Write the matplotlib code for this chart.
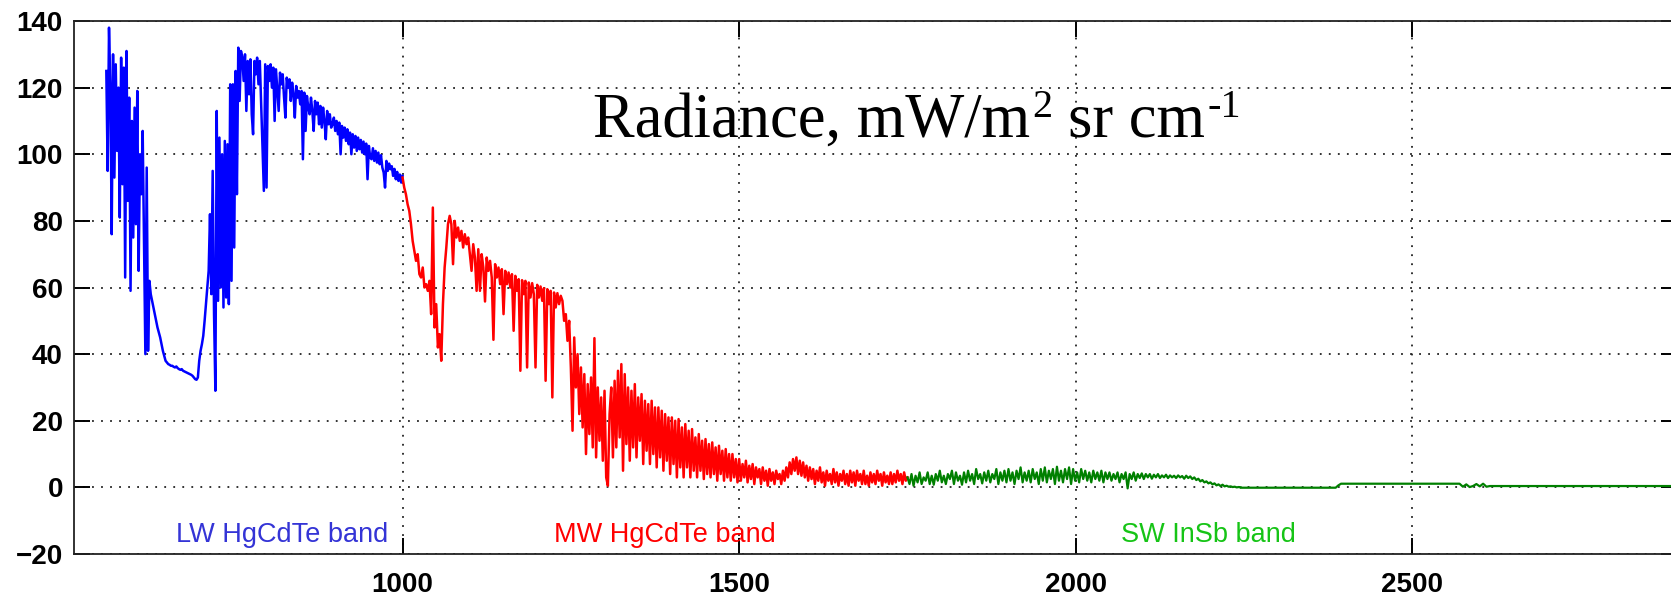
import numpy as np
import matplotlib.pyplot as plt
from matplotlib import transforms

plt.rcParams['font.family'] = ['Liberation Sans', 'DejaVu Sans']

# ---- spectrum, radiance in mW/m2 sr cm-1 ----
# LW HgCdTe band: channels every 2 cm-1 from 560
lw_start, lw_step = 560.0, 2.0
lw_rad = [
    125, 95, 138, 121, 76, 130, 93, 127, 101, 120,
    81, 129, 91, 126, 63, 131, 86, 117, 59, 110,
    75, 114, 79, 119, 65, 100, 88, 107, 74, 40,
    96, 41,
    62, 58, 56, 54, 52, 50, 48, 46.5, 45, 43,
    41, 39.5, 38, 37.5, 37, 36.8, 36.5, 36.5, 36.2, 36,
    36.3, 35.8, 35.5, 35.3, 35.5, 35, 34.8, 34.6, 34.4, 34.2,
    34, 33.8, 33.5, 33, 32.5, 32.3, 33, 38, 41, 43,
    45.5, 50, 55, 60, 65,
    82, 58, 95, 52, 29, 113, 56, 105, 60, 100,
    54, 104, 57, 103, 55, 121, 62, 121, 72, 125,
    88, 132, 116, 131,
    129, 122, 130, 113, 128, 118, 128.5, 112, 106, 128,
    124, 129, 121, 128, 115, 101, 89, 127, 90, 126.5,
    122, 127, 120, 126, 110, 125.5, 119, 113, 124.5, 121,
    124, 117, 111, 123, 120, 122.5, 116, 121.5, 118, 111,
    120.5, 117, 119, 115, 119, 98.5, 118.5, 107, 117.5, 114,
    112, 117, 113, 107, 116, 112, 115.5, 109, 114.5, 108,
    114, 110, 104.5, 113, 109, 112, 108, 109, 111, 107,
    110, 106, 109.5, 100, 108.5, 105, 108, 104, 107.5, 103,
    106.5, 100, 106, 102, 105.5, 101, 105, 101.5, 104.3, 100.5,
    103.8, 100, 103.2, 92.5, 102.5, 99, 98.5, 101.8, 98, 101,
    97.5, 100.5, 97, 99.7, 96, 94.5, 90, 98, 95, 97.2,
    95.5, 96.4, 93.5, 95.6, 92.5, 94.7, 92, 93.9, 91.5, 93.5,
]

# MW HgCdTe band: channels every 2.5 cm-1 from 1000
mw_start, mw_step = 1000.0, 2.5
mw_rad = [
    93, 90, 88, 85, 83, 79, 74, 71, 68, 70,
    64, 63, 66, 60, 61, 59, 62, 52, 84, 48,
    55, 42, 46, 38, 55, 66, 72, 79, 81.5,
    79, 67, 80, 75, 78, 74, 77, 72, 76, 73,
    75, 70, 65, 73, 69, 59, 71.5, 59, 70, 66,
    55.8, 69, 65, 68, 63, 44.3, 67, 63, 66, 61,
    65.5, 52, 65, 61, 64.5, 60, 64, 47, 63.5, 59,
    62.5, 35, 62.2, 58, 62, 36, 61.5, 57, 61.3, 58,
    36, 60.8, 57, 60.3, 56, 59.8, 32, 59.5, 55, 59,
    27, 58.5, 54, 58.3, 55, 57.5,
    56, 50, 52, 44, 50, 36, 17, 45, 30, 40,
    22, 36, 18, 34, 10, 31, 16, 33, 12, 44.8,
    9, 30, 14, 27, 8, 29, 3, 0.5, 22, 30,
    9, 32, 12, 35, 15, 37, 5, 34, 13, 30,
    8, 29, 12, 31, 9, 27, 14, 28, 7, 26,
    11, 25, 7, 26, 10, 24, 6, 24, 9, 23,
    5, 22, 8, 21, 4, 21, 7, 20, 3, 20.5,
    6, 18, 3, 19, 6, 17, 3, 17.5, 5, 15,
    3, 16, 5, 14, 2.5, 14.5, 4, 13, 3, 13.5,
    4, 12, 2, 12.5, 4, 11, 2, 11.5, 3, 10,
    2, 10, 3, 8.5, 1.5, 8.5,
    2, 7, 3, 8, 1.5, 6.5, 2.5, 7, 1, 6,
    3, 5.5, 1, 6, 2, 5, 0.5, 5.5, 2, 4.5,
    1, 5, 2.5, 4, 1, 5, 2, 6, 3, 7.5,
    4, 8.5, 5, 9, 4, 8, 3.5, 7.5, 3, 6.5,
    2, 6, 2.5, 5.5, 1, 5, 2, 6, 1.5, 4.5,
    0.5, 5, 2, 4, 1, 5.5, 1.5, 4.5, 0.5, 4,
    2, 5, 1, 4, 0.5, 5, 1.5, 4.5, 0.5, 5,
    2, 4, 1, 5, 1, 3.5, 0.5, 4.5, 1.5, 4,
    1, 5, 2, 4, 0.5, 4.5, 1.5, 3.5, 1, 4.5,
    1, 4, 1.5, 5, 2, 4, 1, 4.5, 2, 3,
]

# SW InSb band: channels every 3 cm-1 from 1750, then the flat tail
sw_start, sw_step = 1750.0, 3.0
sw_rad = [
    3, 1, 4, 0.5, 3.5, 1.5, 4.5, 1, 3, 2,
    4.5, 1, 3.5, 0.8, 4, 2, 5, 1.5, 3.5, 1,
    4, 2.5, 5, 1, 4.5, 2, 3.5, 0.8, 4.5, 1.5,
    5, 2, 4, 1, 5.5, 2.5, 4, 1.2, 4.5, 2,
    5, 1.5, 4, 2.5, 5.5, 1, 4.5, 2, 5, 1.5,
    5.5, 2, 4.5, 1, 5, 2.5, 6, 1.5, 4.5, 2,
    5, 1.5, 5.5, 2.5, 4.5, 1, 5.5, 2, 6, 1.5,
    5, 2.5, 5.5, 1, 6.2, 2, 5, 1.5, 5.5, 2.5,
    6, 1, 5.5, 2, 4.5, 1.5, 5.5, 2.5, 5, 2,
    4.5, 1.5, 5, 2.5, 4.5, 2, 5, 1.5, 4.5, 2.5,
    4.5, 2, 4, 2.5, 4.5, 1.5, 4, 2.5, 4.5, -0.3,
    4, 2.5, 4.5, 2, 4, 2.8, 4.2, 2.5, 4, 3,
    4, 2.6, 3.8, 3, 4, 2.8, 3.6, 3, 3.8, 2.8,
    3.6, 3, 3.5, 2.8, 3.6, 3, 3.4, 2.6, 3.5, 2.8,
    3.3, 2.5, 3, 2.2, 2.6, 1.8, 2.2, 1.5, 1.8, 1.2,
    1.5, 0.9, 1.2, 0.6, 0.9, 0.4, 0.8, 0.3, 0.5, 0.2,
    0.3, 0.1, 0.2, 0, 0.1, 0,
]
tail_wn = [2245, 2386, 2390, 2394, 2570, 2575, 2580, 2585, 2590, 2595,
           2600, 2605, 2610, 2615, 2900]
tail_rad = [-0.1, -0.1, 0.6, 1.1, 1.1, 0.2, 0.9, 0.1, 0.4, 1.0,
            0.3, 1.1, 0.2, 0.4, 0.4]

band_names = ['LW HgCdTe band', 'MW HgCdTe band', 'SW InSb band']
band_text_x = [663, 1225, 2067]
band_text_colors = ['#3434d6', '#ff0000', '#16c416']

# units label, drawn piece by piece: (text, size in pt, rise in px, gap after in px)
unit_parts = [('Radiance, mW/m', 45, 0, 2), ('2', 29, 19, 16),
              ('sr cm', 45, 0, 2), ('-1', 29, 19, 0)]

x_ticks = [1000, 1500, 2000, 2500]
y_ticks = [-20, 0, 20, 40, 60, 80, 100, 120, 140]

lw_wn = lw_start + lw_step * np.arange(len(lw_rad))
mw_wn = mw_start + mw_step * np.arange(len(mw_rad))
sw_wn = sw_start + sw_step * np.arange(len(sw_rad))

fig = plt.figure(figsize=(16.71, 5.98), dpi=100)
ax = fig.add_axes([74 / 1671, 44 / 598, 1603 / 1671, 533 / 598])

ax.plot(lw_wn, lw_rad, color='#0000ff', lw=1.8)
ax.plot(mw_wn, mw_rad, color='#ff0000', lw=1.8)
ax.plot(np.concatenate([sw_wn, tail_wn]), np.concatenate([sw_rad, tail_rad]),
        color='#008000', lw=1.6)

ax.set_xlim(512, 2893)
ax.set_ylim(-20, 140)
ax.set_xticks(x_ticks)
ax.set_yticks(y_ticks)

ax.grid(True, color='#222222', linestyle=(0, (1, 4)), linewidth=1.3)
ax.tick_params(axis='both', which='major', direction='in', length=11.5, width=1.4,
               top=True, right=True, labelsize=20, colors='black')
ax.tick_params(axis='x', pad=13)
ax.tick_params(axis='y', pad=8)
for lab in ax.get_xticklabels() + ax.get_yticklabels():
    lab.set_fontweight('bold')
for sp in ax.spines.values():
    sp.set_linewidth(1.3)
    sp.set_color('#222222')

for name, tx, col in zip(band_names, band_text_x, band_text_colors):
    ax.text(tx, -16.4, name, color=col, fontsize=19.5, ha='left', va='baseline')

# chain the label pieces so the superscripts sit right after their base text
rend = fig.canvas.get_renderer()
shift = 0.0
for piece, size, rise, gap in unit_parts:
    tr = transforms.offset_copy(ax.transData, fig=fig, x=shift, y=rise, units='dots')
    t = ax.text(1283, 105.4, piece, transform=tr, family='Liberation Serif',
                fontsize=size, ha='left', va='baseline', color='black')
    shift += t.get_window_extent(renderer=rend).width + gap

fig.savefig('out.png', dpi=100)
